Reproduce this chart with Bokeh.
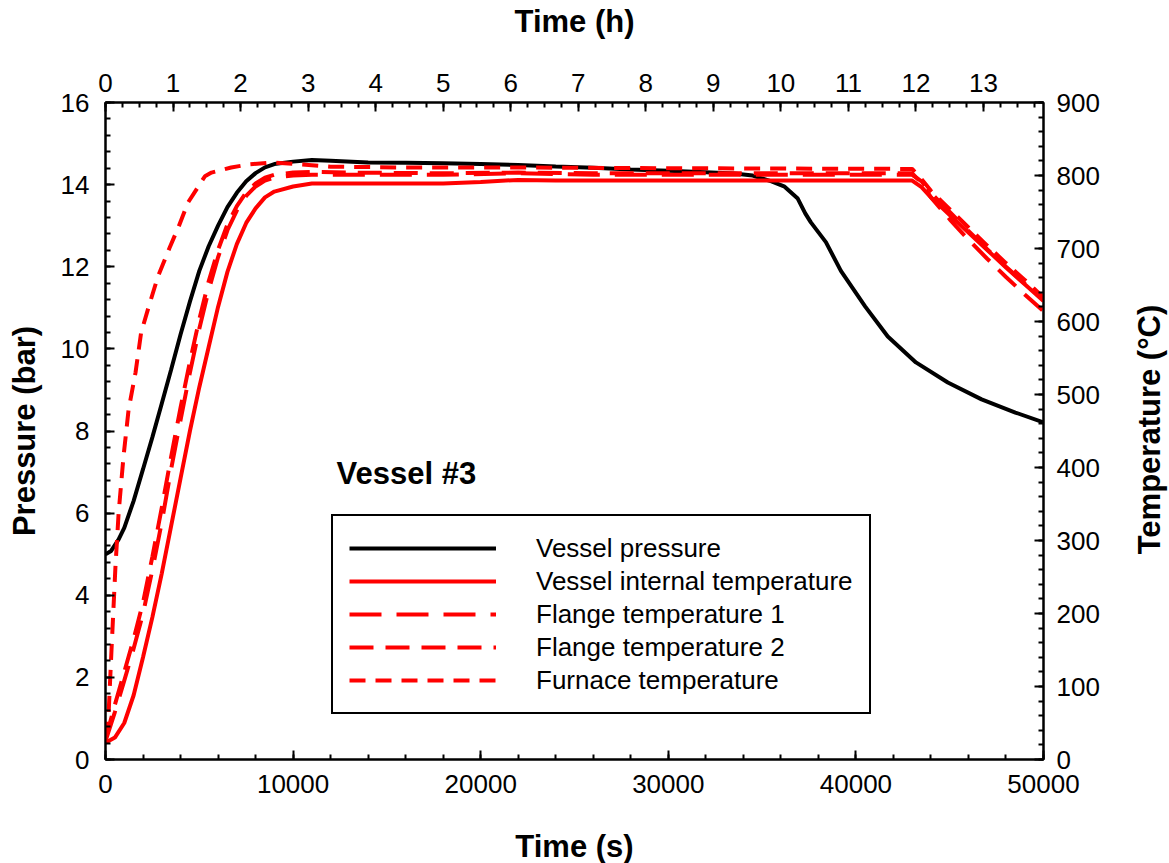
import math
from bokeh.plotting import figure
from bokeh.layouts import row
from bokeh.models import Range1d, LinearAxis, SingleIntervalTicker, Legend, LegendItem, Label
from bokeh.embed import file_html
from bokeh.resources import INLINE

# ---------------- data ----------------
t_pressure = [0, 300, 700, 1000, 1500, 2000, 2500, 3000, 3500, 4000, 4500, 5000, 5500,
              6000, 6500, 7000, 7500, 8000, 8500, 9000, 10000, 11000, 12000, 14000,
              16000, 18000, 20000, 22000, 24000, 26000, 28000, 30000, 32000, 33500,
              34500, 35500, 36200, 36900, 37300, 37600, 38400, 39200, 40500, 41700,
              43200, 44900, 46700, 48500, 50000]
pressure = [5.0, 5.08, 5.36, 5.64, 6.3, 7.07, 7.85, 8.67, 9.5, 10.35, 11.15, 11.9, 12.5,
            13.0, 13.45, 13.8, 14.08, 14.28, 14.42, 14.5, 14.56, 14.6, 14.58, 14.54,
            14.53, 14.52, 14.5, 14.48, 14.44, 14.41, 14.37, 14.34, 14.3, 14.27,
            14.22, 14.08, 13.95, 13.66, 13.3, 13.08, 12.6, 11.9, 11.03, 10.3,
            9.67, 9.18, 8.77, 8.45, 8.21]

t_vessel = [0, 500, 1000, 1500, 2000, 2500, 3000, 3500, 4000, 4500, 5000, 5500, 6000,
            6500, 7000, 7500, 8000, 8500, 9000, 10000, 11000, 14000, 18000, 20000,
            22000, 24000, 30000, 35000, 40000, 43000, 43500, 44000, 45000, 46000,
            47000, 48000, 49000, 50000]
T_vessel = [23, 30, 50, 88, 140, 195, 255, 320, 385, 450, 510, 565, 620,
            668, 706, 735, 755, 770, 778, 785, 789, 789, 789, 791,
            794, 793, 793, 793, 793, 793, 784, 770, 746, 722, 698, 674, 651, 628]

t_flange = [0, 500, 1000, 1500, 2000, 2500, 3000, 3500, 4000, 4500, 5000, 5500, 6000,
            6500, 7000, 7500, 8000, 8500, 9000, 10000, 11000, 13000, 18000, 22000,
            26000, 35000, 43000, 43500, 44000, 45000, 46000, 47000, 48000, 49000, 50000]
T_flange1 = [25, 65, 108, 152, 200, 260, 325, 398, 465, 530, 590, 643, 688,
             725, 752, 772, 785, 793, 797, 800, 801, 801, 801, 803,
             801, 801, 801, 792, 776, 750, 724, 699, 675, 652, 630]
T_flange2 = [28, 75, 120, 165, 215, 278, 345, 415, 482, 545, 603, 655, 698,
             733, 758, 777, 789, 797, 801, 804, 805, 804, 803, 804,
             803, 803, 803, 790, 770, 740, 712, 686, 661, 637, 614]

t_furnace = [0, 160, 320, 530, 700, 960, 1230, 1600, 1900, 2300, 2800, 3400, 3900, 4400,
             4950, 5300, 5650, 6700, 7600, 8900, 10000, 12000, 16000, 22000, 30000,
             43000, 43500, 44000, 45000, 46000, 47000, 48000, 49000, 50000]
T_furnace = [30, 60, 150, 264, 338, 415, 479, 530, 585, 620, 662, 700, 730, 763,
             785, 799, 804, 811, 815, 818, 816, 812, 811, 811, 810,
             809, 795, 779, 754, 729, 704, 680, 657, 633]

series_names = ["Vessel pressure", "Vessel internal temperature", "Flange temperature 1",
                "Flange temperature 2", "Furnace temperature"]

FONT = "Liberation Sans"
RED = "#ff0000"

p = figure(frame_width=938, frame_height=657, output_backend="svg", toolbar_location=None,
           x_range=Range1d(0, 50000), y_range=Range1d(0, 16),
           x_axis_location=None, y_axis_location=None,
           min_border_left=105, min_border_top=100, min_border_right=78, min_border_bottom=10,
           background_fill_color="white", border_fill_color="white")
p.extra_x_ranges = {"hours": Range1d(0, 50000 / 3600)}
p.extra_y_ranges = {"temp": Range1d(0, 900)}
p.xgrid.visible = False
p.ygrid.visible = False
p.outline_line_color = "black"
p.outline_line_width = 2

bottom_axis = LinearAxis(axis_label="Time (s)",
                         ticker=SingleIntervalTicker(interval=10000, num_minor_ticks=5))
left_axis = LinearAxis(axis_label="Pressure (bar)",
                       ticker=SingleIntervalTicker(interval=2, num_minor_ticks=5))
top_axis = LinearAxis(x_range_name="hours", axis_label="Time (h)",
                      ticker=SingleIntervalTicker(interval=1, num_minor_ticks=4))
right_axis = LinearAxis(y_range_name="temp",
                        ticker=SingleIntervalTicker(interval=100, num_minor_ticks=5))
p.add_layout(bottom_axis, "below")
p.add_layout(left_axis, "left")
p.add_layout(top_axis, "above")
p.add_layout(right_axis, "right")

for ax in [bottom_axis, left_axis, top_axis, right_axis]:
    ax.axis_line_width = 2
    ax.axis_line_color = "black"
    ax.major_tick_in = 9
    ax.major_tick_out = 0
    ax.minor_tick_in = 5
    ax.minor_tick_out = 0
    ax.major_tick_line_width = 2
    ax.minor_tick_line_width = 2
    ax.major_tick_line_color = "black"
    ax.minor_tick_line_color = "black"
    ax.major_label_text_font = FONT
    ax.major_label_text_font_size = "26px"
    ax.major_label_text_color = "black"
    ax.axis_label_text_font = FONT
    ax.axis_label_text_font_size = "31px"
    ax.axis_label_text_font_style = "bold"
    ax.axis_label_text_color = "black"

bottom_axis.major_label_standoff = 15
bottom_axis.axis_label_standoff = 33
left_axis.major_label_standoff = 16
left_axis.axis_label_standoff = 16
top_axis.major_label_standoff = 11
top_axis.axis_label_standoff = 32
right_axis.major_label_standoff = 13

lw = 4
r_p = p.line(t_pressure, pressure, line_color="black", line_width=lw)
r_v = p.line(t_vessel, T_vessel, line_color=RED, line_width=lw, y_range_name="temp")
r_f1 = p.line(t_flange, T_flange1, line_color=RED, line_width=lw, line_dash="32 15",
              y_range_name="temp")
r_f2 = p.line(t_flange, T_flange2, line_color=RED, line_width=lw, line_dash="24 12",
              y_range_name="temp")
r_fu = p.line(t_furnace, T_furnace, line_color=RED, line_width=lw, line_dash="16 10",
              y_range_name="temp")

legend = Legend(items=[LegendItem(label=n, renderers=[r]) for n, r in
                       zip(series_names, [r_p, r_v, r_f1, r_f2, r_fu])],
                location=(226, 45), orientation="vertical",
                glyph_width=147, glyph_height=32, label_height=32, label_standoff=40,
                spacing=1, padding=16, margin=0,
                label_text_font=FONT, label_text_font_size="26px", label_text_color="black",
                border_line_color="black", border_line_width=2, border_line_alpha=1.0,
                background_fill_color="white", background_fill_alpha=1.0)
p.add_layout(legend, "center")

p.add_layout(Label(x=12313, y=6.97, text="Vessel #3", text_font=FONT,
                   text_font_size="31px", text_font_style="bold", text_color="black",
                   text_baseline="alphabetic", text_align="left"))

# narrow companion figure that carries the right-hand axis title (reads bottom-to-top)
side = figure(width=47, height=863, output_backend="svg", toolbar_location=None,
              x_axis_location=None, y_axis_location=None, min_border=0,
              x_range=Range1d(0, 1), y_range=Range1d(0, 1),
              background_fill_color="white", border_fill_color="white")
side.outline_line_color = None
side.xgrid.visible = False
side.ygrid.visible = False
side.add_layout(Label(x=28, y=0.5, x_units="screen", y_units="data",
                      angle=math.pi / 2, text="Temperature (°C)", text_font=FONT,
                      text_font_size="31px", text_font_style="bold", text_color="black",
                      text_align="center", text_baseline="alphabetic"))

layout = row(p, side, spacing=0)
open("out.html", "w").write(file_html(layout, INLINE))
